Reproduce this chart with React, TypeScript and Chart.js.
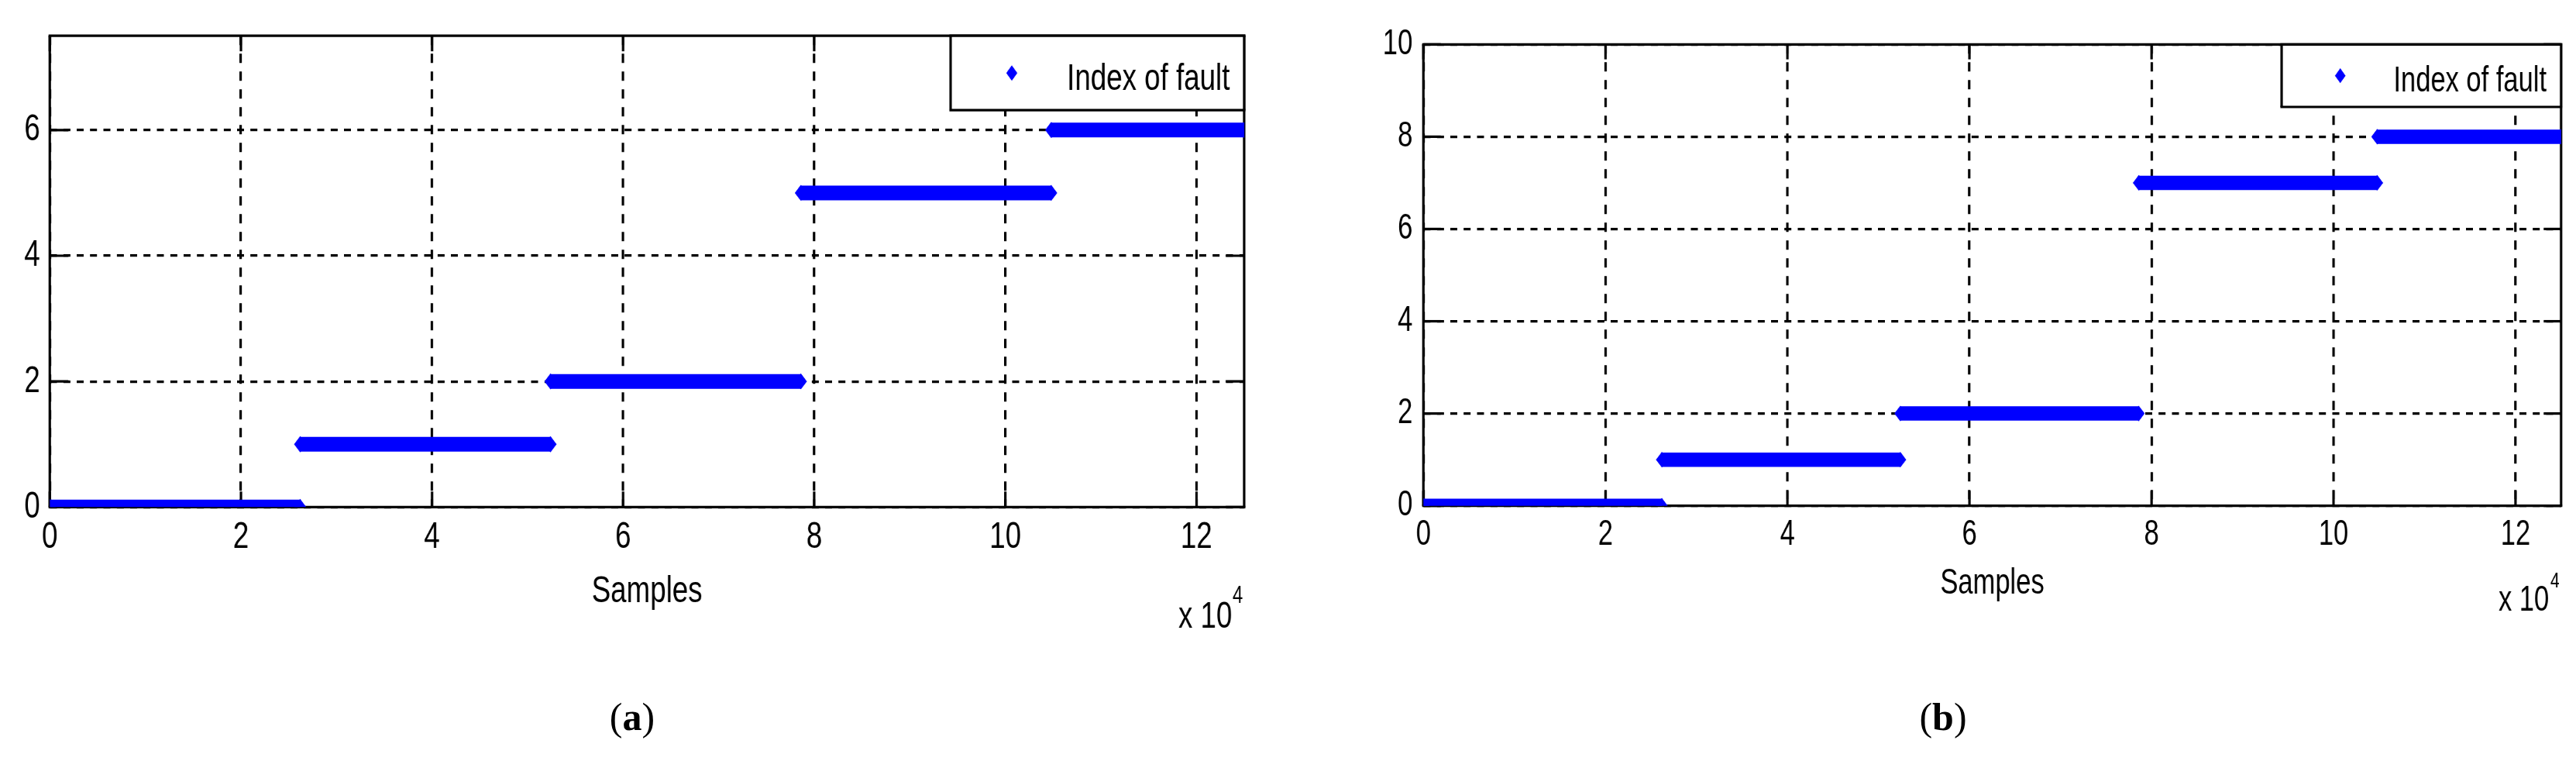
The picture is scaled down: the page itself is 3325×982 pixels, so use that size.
import React, { useEffect, useRef } from "react";
import { Chart, registerables } from "chart.js";

Chart.register(...registerables);

// ---------------- data ----------------
const segmentStart = [0, 26200, 52400, 78600, 104800];
const segmentEnd = [26200, 52400, 78600, 104800, 125000];
const faultIndexA = [0, 1, 2, 5, 6];
const faultIndexB = [0, 1, 2, 7, 8];
const xTicks = [0, 20000, 40000, 60000, 80000, 100000, 120000];
const yTicksA = [0, 2, 4, 6];
const yTicksB = [0, 2, 4, 6, 8, 10];
const xMax = 125000;
const yMaxA = 7.5;
const yMaxB = 10;
const legendLabel = "Index of fault";
const xTitle = "Samples";
const xExponentBase = "x 10";
const xExponentPower = "4";

// horizontal compression of the original figure
const K = 0.75;
const FONT = '"Liberation Sans", Arial, Helvetica, sans-serif';
const BLUE = "#0000ff";
const VW = 4.2; // width of vertical lines (internal px)
const HW = 3.2; // width of horizontal lines

type Panel = {
  values: number[];
  yMax: number;
  yTicks: number[];
  cssLeft: number;
  cssWidth: number;
  font: number;
  yAxisWidth: number;
  padR: number;
  padT: number;
  padB: number;
  xAxisHeight: number;
  yLabelPad: number;
  xLabelPad: number;
  xTickLen: number;
  yTickLen: number;
  barWidth: number;
  legW: number;
  legH: number;
  legMarkerDx: number;
  legTextInset: number;
  legBaseDy: number;
  legMarkerR: number;
  expDx: number;
  expDy: number;
  supDx: number;
  supDy: number;
  supSize: number;
};

const panelA: Panel = {
  values: faultIndexA,
  yMax: yMaxA,
  yTicks: yTicksA,
  cssLeft: 0,
  cssWidth: 1659,
  font: 49,
  yAxisWidth: 85.7,
  padR: 70.7,
  padT: 31,
  padB: 189.6,
  xAxisHeight: 138.1,
  yLabelPad: 16.8,
  xLabelPad: 10,
  xTickLen: 20,
  yTickLen: 32,
  barWidth: 19,
  legW: 505.3,
  legH: 96,
  legMarkerDx: 105.3,
  legTextInset: 24.7,
  legBaseDy: 69.7,
  legMarkerR: 10,
  expDx: -113.3,
  expDy: 155.3,
  supDx: -20,
  supDy: 123.7,
  supSize: 32,
};

const panelB: Panel = {
  values: faultIndexB,
  yMax: yMaxB,
  yTicks: yTicksB,
  cssLeft: 1659,
  cssWidth: 1665,
  font: 46,
  yAxisWidth: 237.7,
  padR: 24.4,
  padT: 57.3,
  padB: 201.4,
  xAxisHeight: 127.9,
  yLabelPad: 18.7,
  xLabelPad: 9.7,
  xTickLen: 19.3,
  yTickLen: 30,
  barWidth: 18.5,
  legW: 481,
  legH: 80.7,
  legMarkerDx: 101,
  legTextInset: 24.9,
  legBaseDy: 61,
  legMarkerR: 9.6,
  expDx: -107.6,
  expDy: 135.3,
  supDx: -18.3,
  supDy: 105.3,
  supSize: 28,
};

function buildPoints(values: number[]) {
  const pts: { x: number; y: number | null }[] = [];
  segmentStart.forEach((s, i) => {
    pts.push({ x: s, y: values[i] }, { x: segmentEnd[i], y: values[i] });
    if (i < segmentStart.length - 1) pts.push({ x: segmentEnd[i], y: null });
  });
  return pts;
}

function makePlugin(p: Panel) {
  const line = (ctx: CanvasRenderingContext2D, x1: number, y1: number, x2: number, y2: number) => {
    ctx.beginPath();
    ctx.moveTo(x1, y1);
    ctx.lineTo(x2, y2);
    ctx.stroke();
  };
  return {
    id: "matlabAxes",
    beforeDatasetsDraw(chart: any) {
      const { ctx, chartArea: a, scales } = chart;
      ctx.save();
      ctx.setLineDash([]);
      ctx.strokeStyle = "#000";
      ctx.lineWidth = VW;
      scales.x.ticks.forEach((t: any) => {
        const px = scales.x.getPixelForValue(t.value);
        line(ctx, px, a.bottom, px, a.bottom - p.xTickLen);
        line(ctx, px, a.top, px, a.top + p.xTickLen);
      });
      ctx.lineWidth = HW;
      scales.y.ticks.forEach((t: any) => {
        const py = scales.y.getPixelForValue(t.value);
        line(ctx, a.left, py, a.left + p.yTickLen, py);
        line(ctx, a.right, py, a.right - p.yTickLen, py);
      });
      ctx.lineWidth = HW;
      line(ctx, a.left - VW / 2, a.top, a.right + VW / 2, a.top);
      line(ctx, a.left - VW / 2, a.bottom, a.right + VW / 2, a.bottom);
      ctx.lineWidth = VW;
      line(ctx, a.left, a.top, a.left, a.bottom);
      line(ctx, a.right, a.top, a.right, a.bottom);
      ctx.restore();
    },
    afterDatasetsDraw(chart: any) {
      const { ctx, chartArea: a } = chart;
      const ds = chart.data.datasets[0];
      ctx.save();
      ctx.setLineDash([]);
      const bl = a.right - p.legW;
      const bt = a.top;
      ctx.fillStyle = "#fff";
      ctx.fillRect(bl, bt, p.legW, p.legH);
      ctx.strokeStyle = "#000";
      ctx.lineWidth = HW;
      line(ctx, bl - VW / 2, bt, a.right + VW / 2, bt);
      line(ctx, bl - VW / 2, bt + p.legH, a.right + VW / 2, bt + p.legH);
      ctx.lineWidth = VW;
      line(ctx, bl, bt, bl, bt + p.legH);
      line(ctx, a.right, bt, a.right, bt + p.legH);
      // marker (diamond, like the data points)
      const mx = bl + p.legMarkerDx;
      const my = bt + p.legH / 2;
      const r = p.legMarkerR;
      ctx.fillStyle = ds.borderColor;
      ctx.beginPath();
      ctx.moveTo(mx, my - r);
      ctx.lineTo(mx + r * 0.95, my);
      ctx.lineTo(mx, my + r);
      ctx.lineTo(mx - r * 0.95, my);
      ctx.closePath();
      ctx.fill();
      // text
      ctx.fillStyle = "#000";
      ctx.font = `${p.font}px ${FONT}`;
      ctx.textAlign = "right";
      ctx.textBaseline = "alphabetic";
      ctx.fillText(ds.label, a.right - p.legTextInset, bt + p.legBaseDy);
      // exponent
      ctx.textAlign = "left";
      ctx.fillText(xExponentBase, a.right + p.expDx, a.bottom + p.expDy);
      ctx.font = `${p.supSize}px ${FONT}`;
      ctx.fillText(xExponentPower, a.right + p.supDx, a.bottom + p.supDy);
      ctx.restore();
    },
  };
}

function buildConfig(p: Panel): any {
  const tickFont = { family: FONT, size: p.font };
  return {
    type: "line",
    data: {
      datasets: [
        {
          label: legendLabel,
          data: buildPoints(p.values),
          borderColor: BLUE,
          backgroundColor: BLUE,
          borderWidth: p.barWidth,
          borderCapStyle: "butt",
          borderJoinStyle: "miter",
          pointStyle: "rectRot",
          pointRadius: p.barWidth * 0.55,
          pointBorderWidth: 0,
          pointBackgroundColor: BLUE,
          pointBorderColor: BLUE,
          pointHoverRadius: 0,
          fill: false,
          tension: 0,
          spanGaps: false,
        },
      ],
    },
    options: {
      responsive: false,
      animation: false,
      devicePixelRatio: 1,
      events: [],
      layout: { padding: { left: 0, right: p.padR, top: p.padT, bottom: p.padB } },
      plugins: { legend: { display: false }, tooltip: { enabled: false }, title: { display: false } },
      scales: {
        x: {
          type: "linear",
          min: 0,
          max: xMax,
          afterBuildTicks: (s: any) => {
            s.ticks = xTicks.map((v) => ({ value: v }));
          },
          afterFit: (s: any) => {
            s.height = p.xAxisHeight;
          },
          ticks: {
            callback: (v: any) => String(Number(v) / 10000),
            font: tickFont,
            color: "#000",
            padding: p.xLabelPad,
            autoSkip: false,
            maxRotation: 0,
            minRotation: 0,
          },
          grid: { display: true, color: "#000", lineWidth: VW, drawTicks: false },
          border: { display: false, dash: [12, 11] },
          title: {
            display: true,
            text: xTitle,
            font: tickFont,
            color: "#000",
            padding: { top: 0, bottom: 0 },
          },
        },
        y: {
          type: "linear",
          min: 0,
          max: p.yMax,
          afterBuildTicks: (s: any) => {
            s.ticks = p.yTicks.map((v) => ({ value: v }));
          },
          afterFit: (s: any) => {
            s.width = p.yAxisWidth;
          },
          ticks: {
            font: tickFont,
            color: "#000",
            padding: p.yLabelPad,
            autoSkip: false,
          },
          grid: { display: true, color: "#000", lineWidth: HW, drawTicks: false },
          border: { display: false, dash: [12, 11] },
        },
      },
    },
    plugins: [makePlugin(p)],
  };
}

function ChartPanel({ p }: { p: Panel }) {
  const ref = useRef<HTMLCanvasElement>(null);
  useEffect(() => {
    if (!ref.current) return;
    const chart = new Chart(ref.current, buildConfig(p));
    return () => chart.destroy();
  }, []);
  const w = Math.round(p.cssWidth / K);
  return (
    <canvas
      ref={ref}
      width={w}
      height={982}
      style={{ position: "absolute", left: p.cssLeft, top: 0, width: p.cssWidth + "px", height: "982px" }}
    />
  );
}

function SubLabel({ letter, x }: { letter: string; x: number }) {
  return (
    <div
      style={{
        position: "absolute",
        left: x,
        top: 925,
        transform: "translate(-50%, -50%)",
        fontFamily: '"Liberation Serif", "DejaVu Serif", serif',
        fontSize: 50,
        color: "#000",
        whiteSpace: "nowrap",
        lineHeight: 1,
      }}
    >
      (<b>{letter}</b>)
    </div>
  );
}

export default function App() {
  return (
    <div
      style={{
        position: "fixed",
        left: 0,
        top: 0,
        width: 3325,
        height: 982,
        background: "#fff",
        overflow: "hidden",
      }}
    >
      <ChartPanel p={panelA} />
      <ChartPanel p={panelB} />
      <SubLabel letter="a" x={816} />
      <SubLabel letter="b" x={2508} />
    </div>
  );
}
